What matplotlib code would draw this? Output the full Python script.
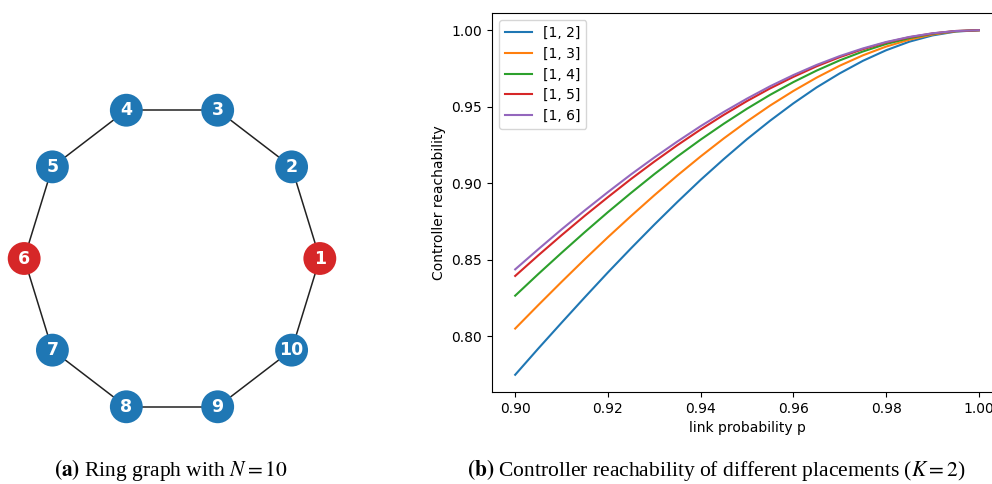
import numpy as np
import matplotlib
matplotlib.use("Agg")
import matplotlib.pyplot as plt

# ring graph
n_nodes = 10
node_labels = [str(i) for i in range(1, n_nodes + 1)]
controllers = [1, 6]

# link probability sweep and controller reachability for each placement
link_prob = [0.900, 0.905, 0.910, 0.915, 0.920, 0.925, 0.930, 0.935, 0.940, 0.945, 0.950,
             0.955, 0.960, 0.965, 0.970, 0.975, 0.980, 0.985, 0.990, 0.995, 1.000]
reach_1_2 = [0.7748, 0.7920, 0.8088, 0.8254, 0.8417, 0.8575, 0.8729, 0.8878, 0.9022, 0.9158, 0.9288,
             0.9409, 0.9522, 0.9626, 0.9718, 0.9800, 0.9869, 0.9925, 0.9966, 0.9991, 1.0]
reach_1_3 = [0.8050, 0.8204, 0.8355, 0.8503, 0.8647, 0.8786, 0.8921, 0.9051, 0.9175, 0.9293, 0.9404,
             0.9508, 0.9603, 0.9690, 0.9768, 0.9836, 0.9893, 0.9938, 0.9972, 0.9993, 1.0]
reach_1_4 = [0.8265, 0.8407, 0.8545, 0.8680, 0.8811, 0.8937, 0.9059, 0.9175, 0.9285, 0.9389, 0.9487,
             0.9578, 0.9661, 0.9736, 0.9803, 0.9861, 0.9910, 0.9948, 0.9977, 0.9994, 1.0]
reach_1_5 = [0.8394, 0.8529, 0.8660, 0.8787, 0.8909, 0.9028, 0.9141, 0.9249, 0.9351, 0.9447, 0.9537,
             0.9620, 0.9695, 0.9764, 0.9824, 0.9876, 0.9920, 0.9954, 0.9979, 0.9995, 1.0]
reach_1_6 = [0.8437, 0.8569, 0.8698, 0.8822, 0.8942, 0.9058, 0.9168, 0.9273, 0.9373, 0.9466, 0.9553,
             0.9634, 0.9707, 0.9773, 0.9831, 0.9881, 0.9923, 0.9956, 0.9980, 0.9995, 1.0]
placements = ["[1, 2]", "[1, 3]", "[1, 4]", "[1, 5]", "[1, 6]"]
series = [reach_1_2, reach_1_3, reach_1_4, reach_1_5, reach_1_6]

plt.rcParams["mathtext.fontset"] = "stix"

fig = plt.figure(figsize=(9.92, 4.84), dpi=100)

# (a) ring graph, circular layout like networkx
ax1 = fig.add_axes([2 / 992, 54 / 484, 340 / 992, 343 / 484])
theta = 2 * np.pi * np.arange(n_nodes) / n_nodes
px, py = np.cos(theta), np.sin(theta)
for i in range(n_nodes):
    j = (i + 1) % n_nodes
    ax1.plot([px[i], px[j]], [py[i], py[j]], color="#222222", lw=1.1, zorder=1)
colors = ["#d62728" if (i + 1) in controllers else "#1f77b4" for i in range(n_nodes)]
ax1.scatter(px, py, s=560, c=colors, zorder=2, linewidths=0)
for i in range(n_nodes):
    ax1.text(px[i], py[i], node_labels[i], color="white", fontsize=12.5,
             fontweight="bold", ha="center", va="center", zorder=3)
ax1.set_xlim(-1.15, 1.15)
ax1.set_ylim(-1.1, 1.1)
ax1.axis("off")

# (b) reachability vs link probability
ax2 = fig.add_axes([492 / 992, 92 / 484, 510 / 992, 379 / 484])
for name, vals in zip(placements, series):
    ax2.plot(link_prob, vals, label=name, lw=1.5)
ax2.set_xticks([0.90, 0.92, 0.94, 0.96, 0.98, 1.00])
ax2.set_yticks([0.80, 0.85, 0.90, 0.95, 1.00])
ax2.set_xlabel("link probability p")
ax2.set_ylabel("Controller reachability")
ax2.legend(loc="upper left")

cap_font = dict(family="Liberation Serif", fontsize=15.5, ha="center", va="center")
fig.text(171 / 992, 1 - 470 / 484, r"$\mathbf{(a)}$ Ring graph with $N = 10$", **cap_font)
fig.text(716 / 992, 1 - 470 / 484,
         r"$\mathbf{(b)}$ Controller reachability of different placements ($K = 2$)", **cap_font)

fig.savefig("out.png", dpi=100)
